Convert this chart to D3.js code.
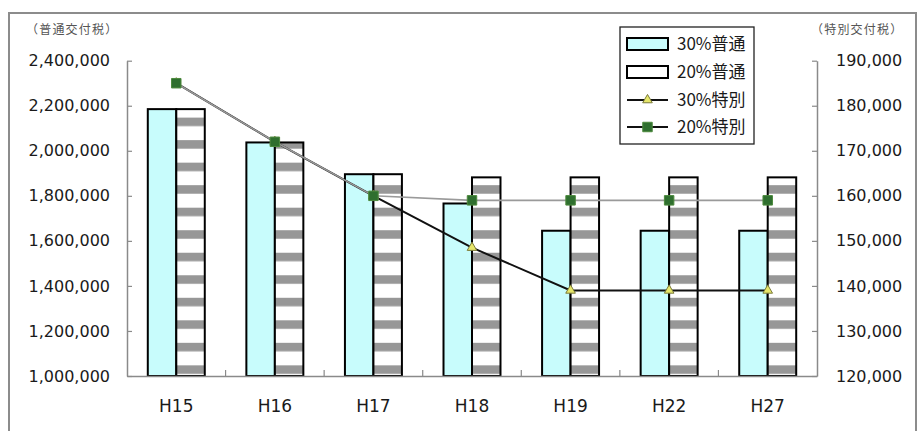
<!DOCTYPE html>
<html>
<head>
<meta charset="utf-8">
<script src="https://cdn.jsdelivr.net/npm/d3@7"></script>
<style>
  html, body { margin: 0; padding: 0; background: #fff; }
  svg { display: block; }
</style>
</head>
<body>
<svg id="chart" width="924" height="431"></svg>
<script>
// Fiscal years
const years = ["H15", "H16", "H17", "H18", "H19", "H22", "H27"];
// Ordinary allocation tax (left axis)
const futsu30 = [2185000, 2037000, 1896000, 1766000, 1645000, 1645000, 1645000];
const futsu20 = [2185000, 2037000, 1896000, 1882000, 1882000, 1882000, 1882000];
// Special allocation tax (right axis)
const tokubetsu30 = [185000, 172000, 160000, 148500, 139000, 139000, 139000];
const tokubetsu20 = [185000, 172000, 160000, 159000, 159000, 159000, 159000];
// Axis ticks
const leftTicks = [1000000, 1200000, 1400000, 1600000, 1800000, 2000000, 2200000, 2400000];
const rightTicks = [120000, 130000, 140000, 150000, 160000, 170000, 180000, 190000];
// Legend labels
const legendLabels = ["30%普通", "20%普通", "30%特別", "20%特別"];

const svg = d3.select("#chart");
const plot = { left: 127, right: 817, top: 60.7, bottom: 376 };
const numFont = "'DejaVu Sans', sans-serif";
const jpFont = "'Noto Sans CJK JP', sans-serif";

// Outer frame
svg.append("rect")
  .attr("x", 9).attr("y", 13).attr("width", 907).attr("height", 440)
  .attr("fill", "#fff").attr("stroke", "#8c8c8c").attr("stroke-width", 2);

const x = d3.scaleBand().domain(years).range([plot.left, plot.right]).padding(0);
const xs = d3.scaleBand().domain(["30", "20"]).range([0, x.bandwidth()]).paddingInner(0).paddingOuter(0.73);
const yL = d3.scaleLinear().domain([1000000, 2400000]).range([plot.bottom, plot.top]);
const yR = d3.scaleLinear().domain([120000, 190000]).range([plot.bottom, plot.top]);

// Horizontal stripe pattern for the 20% bars
const stripeH = yL(1000000) - yL(1100000);
const pat = svg.append("defs").append("pattern")
  .attr("id", "stripes").attr("patternUnits", "userSpaceOnUse")
  .attr("x", 0).attr("y", 5).attr("width", 10).attr("height", stripeH);
pat.append("rect").attr("width", 10).attr("height", stripeH).attr("fill", "#fff");
pat.append("rect").attr("width", 10).attr("height", stripeH * 0.38).attr("fill", "#979797");

// Bars
const bar30 = svg.append("g");
bar30.selectAll("rect").data(years).join("rect")
  .attr("x", d => x(d) + xs("30"))
  .attr("y", (d, i) => yL(futsu30[i]))
  .attr("width", xs.bandwidth())
  .attr("height", (d, i) => yL(1000000) - yL(futsu30[i]))
  .attr("fill", "#c8fcfc").attr("stroke", "#000").attr("stroke-width", 2);
const bar20 = svg.append("g");
bar20.selectAll("rect").data(years).join("rect")
  .attr("x", d => x(d) + xs("20"))
  .attr("y", (d, i) => yL(futsu20[i]))
  .attr("width", xs.bandwidth())
  .attr("height", (d, i) => yL(1000000) - yL(futsu20[i]))
  .attr("fill", "url(#stripes)").attr("stroke", "#000").attr("stroke-width", 2);

// Axes
const axisColor = "#8a8a8a";
const gL = svg.append("g").attr("transform", `translate(${plot.left},0)`)
  .call(d3.axisLeft(yL).tickValues(leftTicks).tickFormat(d3.format(","))
    .tickSizeInner(-5).tickSizeOuter(0).tickPadding(17));
const gR = svg.append("g").attr("transform", `translate(${plot.right},0)`)
  .call(d3.axisRight(yR).tickValues(rightTicks).tickFormat(d3.format(","))
    .tickSizeInner(-5).tickSizeOuter(0).tickPadding(19));
const gB = svg.append("g").attr("transform", `translate(0,${plot.bottom})`)
  .call(d3.axisBottom(x).tickSize(0).tickPadding(24));
[gL, gR, gB].forEach(g => {
  g.select(".domain").attr("stroke", axisColor).attr("stroke-width", 1.5);
  g.selectAll(".tick line").attr("stroke", axisColor).attr("stroke-width", 1.2);
  g.selectAll("text").attr("fill", "#1a1a1a").attr("font-family", numFont).attr("font-size", 16);
});
gB.selectAll("text").attr("font-size", 17);

// Category boundary ticks
svg.append("g").selectAll("line").data(years.slice(1)).join("line")
  .attr("x1", d => x(d)).attr("x2", d => x(d))
  .attr("y1", plot.bottom).attr("y2", plot.bottom - 6)
  .attr("stroke", axisColor).attr("stroke-width", 1.2);

// Axis titles
svg.append("text").attr("x", 26).attr("y", 34).text("（普通交付税）")
  .attr("font-family", jpFont).attr("font-size", 12).attr("letter-spacing", 1.2).attr("fill", "#555");
svg.append("text").attr("x", 811).attr("y", 34).text("（特別交付税）")
  .attr("font-family", jpFont).attr("font-size", 12).attr("letter-spacing", 1.2).attr("fill", "#555");

// Lines
const lineR = d3.line().x(d => x(d.year) + x.bandwidth() / 2).y(d => yR(d.v));
const pts30 = years.map((y, i) => ({ year: y, v: tokubetsu30[i] }));
const pts20 = years.map((y, i) => ({ year: y, v: tokubetsu20[i] }));
const tri = d3.symbol().type(d3.symbolTriangle).size(40);
const sq = d3.symbol().type(d3.symbolSquare).size(90);

svg.append("path").datum(pts30).attr("d", lineR)
  .attr("fill", "none").attr("stroke", "#111").attr("stroke-width", 2);
svg.append("g").selectAll("path").data(pts30).join("path")
  .attr("d", tri).attr("transform", d => `translate(${x(d.year) + x.bandwidth() / 2},${yR(d.v)})`)
  .attr("fill", "#e6e66a").attr("stroke", "#7a7a3a").attr("stroke-width", 1);
svg.append("path").datum(pts20).attr("d", lineR)
  .attr("fill", "none").attr("stroke", "#9a9a9a").attr("stroke-width", 1.6);
svg.append("g").selectAll("path").data(pts20).join("path")
  .attr("d", sq).attr("transform", d => `translate(${x(d.year) + x.bandwidth() / 2},${yR(d.v)})`)
  .attr("fill", "#2f6f2f").attr("stroke", "#4d8a3d").attr("stroke-width", 1);

// Legend
const lg = svg.append("g");
lg.append("rect").attr("x", 620).attr("y", 27).attr("width", 134).attr("height", 117)
  .attr("fill", "#fff").attr("stroke", "#222").attr("stroke-width", 1.3);
const rowY = [44, 72, 100, 127];
lg.append("rect").attr("x", 627).attr("y", rowY[0] - 6).attr("width", 41).attr("height", 12)
  .attr("fill", "#c8fcfc").attr("stroke", "#000").attr("stroke-width", 2);
lg.append("rect").attr("x", 627).attr("y", rowY[1] - 6).attr("width", 41).attr("height", 12)
  .attr("fill", "#fff").attr("stroke", "#000").attr("stroke-width", 2);
lg.append("line").attr("x1", 627).attr("x2", 668).attr("y1", rowY[2]).attr("y2", rowY[2])
  .attr("stroke", "#111").attr("stroke-width", 2);
lg.append("path").attr("d", tri).attr("transform", `translate(647.5,${rowY[2]})`)
  .attr("fill", "#e6e66a").attr("stroke", "#7a7a3a").attr("stroke-width", 1);
lg.append("line").attr("x1", 627).attr("x2", 668).attr("y1", rowY[3]).attr("y2", rowY[3])
  .attr("stroke", "#111").attr("stroke-width", 2);
lg.append("path").attr("d", sq).attr("transform", `translate(647.5,${rowY[3]})`)
  .attr("fill", "#2f6f2f").attr("stroke", "#4d8a3d").attr("stroke-width", 1);
lg.selectAll("text.lab").data(legendLabels).join("text").attr("class", "lab")
  .attr("x", 677).attr("y", (d, i) => rowY[i] + 6)
  .attr("font-family", jpFont).attr("font-size", 17).attr("fill", "#1a1a1a")
  .text(d => d);
</script>
</body>
</html>
